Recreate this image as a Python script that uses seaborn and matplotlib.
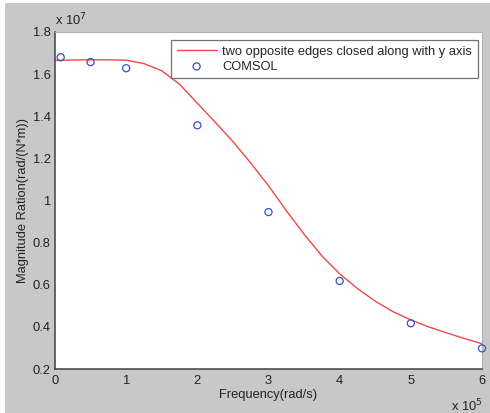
import matplotlib
matplotlib.use("Agg")
import matplotlib.pyplot as plt
import matplotlib.ticker as mticker
from matplotlib.patches import Rectangle
import numpy as np
import pandas as pd
import seaborn as sns

# Analytical curve (frequency in 1e5 rad/s, magnitude in 1e7 rad/(N*m))
curve_freq = [0.0, 0.25, 0.5, 0.75, 1.0, 1.25, 1.5, 1.75, 2.0, 2.25, 2.5, 2.75, 3.0,
              3.25, 3.5, 3.75, 4.0, 4.25, 4.5, 4.75, 5.0, 5.25, 5.5, 5.75, 6.0]
curve_mag = [1.665, 1.667, 1.668, 1.668, 1.666, 1.650, 1.616, 1.552, 1.462, 1.372, 1.28,
             1.178, 1.07, 0.952, 0.84, 0.737, 0.652, 0.582, 0.522, 0.472, 0.433, 0.400,
             0.372, 0.345, 0.32]

# COMSOL results
comsol_freq = [0.08, 0.5, 1.0, 2.0, 3.0, 4.0, 5.0, 6.0]
comsol_mag = [1.68, 1.657, 1.628, 1.357, 0.945, 0.618, 0.417, 0.298]

line_label = "two opposite edges closed along with y axis"
point_label = "COMSOL"
x_label = "Frequency(rad/s)"
y_label = "Magnitude Ration(rad/(N*m))"
x_ticks = [0, 1, 2, 3, 4, 5, 6]
y_ticks = [0.2, 0.4, 0.6, 0.8, 1.0, 1.2, 1.4, 1.6, 1.8]

FS = 9.3

sns.set_style("white")
plt.rcParams["font.family"] = ["Liberation Sans", "DejaVu Sans"]

fig = plt.figure(figsize=(4.9, 4.13), dpi=100, facecolor="white")
fig.patches.append(Rectangle((5 / 490, 0), 485 / 490, 1 - 3 / 413,
                             transform=fig.transFigure, facecolor="#c8c8c8",
                             edgecolor="none", zorder=-10))
ax = fig.add_axes([55 / 490, 1 - 369 / 413, 427 / 490, 337 / 413])
ax.set_facecolor("white")

curve_df = pd.DataFrame({"f": curve_freq, "m": curve_mag})
pts_df = pd.DataFrame({"f": comsol_freq, "m": comsol_mag})

sns.lineplot(data=curve_df, x="f", y="m", ax=ax, color="#f04848", lw=1.0,
             label=line_label)
sns.scatterplot(data=pts_df, x="f", y="m", ax=ax, marker="o", s=26,
                facecolor="none", edgecolor="#3850c0", linewidth=0.9,
                label=point_label, zorder=3, clip_on=False)

ax.set_xlim(0, 6)
ax.set_ylim(0.2, 1.8)
ax.set_xticks(x_ticks)
ax.set_yticks(y_ticks)
fmt = mticker.FuncFormatter(lambda v, p: f"{v:g}")
ax.xaxis.set_major_formatter(fmt)
ax.yaxis.set_major_formatter(fmt)
ax.tick_params(direction="in", length=3.5, width=0.8, colors="#404040",
               labelsize=FS, labelcolor="#222222", pad=3)
ax.tick_params(axis="x", pad=4)

for side in ("left", "bottom"):
    ax.spines[side].set_color("#404040")
    ax.spines[side].set_linewidth(1.1)
for side in ("top", "right"):
    ax.spines[side].set_color("#b0b0b0")
    ax.spines[side].set_linewidth(0.8)

ax.set_xlabel(x_label, fontsize=FS, color="#222222", labelpad=2)
ax.set_ylabel(y_label, fontsize=FS, color="#222222", labelpad=3)

ax.text(0.0, 1.01, r"x 10$^7$", transform=ax.transAxes, fontsize=FS,
        color="#222222", ha="left", va="bottom")
ax.text(1.0, -0.085, r"x 10$^5$", transform=ax.transAxes, fontsize=FS,
        color="#222222", ha="right", va="top")

leg = ax.legend(loc="upper right", bbox_to_anchor=(0.99, 0.976),
                fontsize=FS, frameon=True, fancybox=False, borderpad=0.42,
                handlelength=3.1, handletextpad=0.45, labelspacing=0.25,
                borderaxespad=0.0)
leg.get_frame().set_edgecolor("#505050")
leg.get_frame().set_linewidth(0.9)

fig.savefig("out.png", dpi=100, facecolor="white")
